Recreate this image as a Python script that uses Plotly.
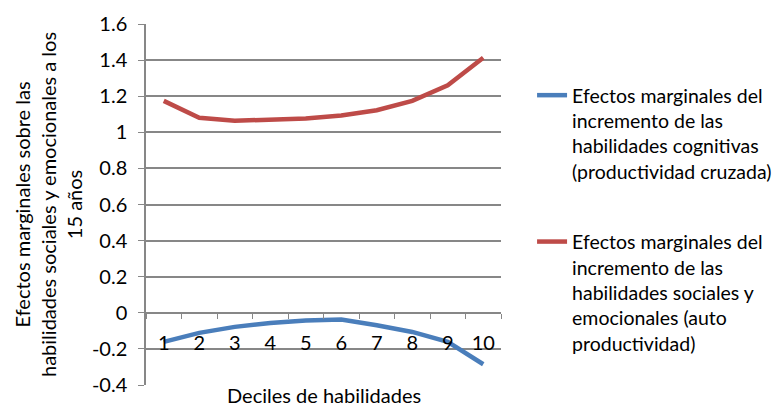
import plotly.graph_objects as go

# Datos
deciles = ["1", "2", "3", "4", "5", "6", "7", "8", "9", "10"]
cognitivas = [-0.161, -0.111, -0.078, -0.056, -0.043, -0.037, -0.069, -0.106, -0.161, -0.285]
socioemocionales = [1.174, 1.081, 1.064, 1.067, 1.076, 1.093, 1.122, 1.174, 1.261, 1.413]

y_ticks = [-0.4, -0.2, 0, 0.2, 0.4, 0.6, 0.8, 1.0, 1.2, 1.4, 1.6]
y_ticktext = ["-0.4", "-0.2", "0", "0.2", "0.4", "0.6", "0.8", "1", "1.2", "1.4", "1.6"]

nombre_azul = "Efectos marginales del<br>incremento de las<br>habilidades cognitivas<br>(productividad cruzada)"
nombre_rojo = "Efectos marginales del<br>incremento de las<br>habilidades sociales y<br>emocionales (auto<br>productividad)"

FUENTE = "Lato"
GRIS = "#878787"

fig = go.Figure()
fig.add_trace(go.Scatter(x=deciles, y=cognitivas, mode="lines", name=nombre_azul,
                         legendgroup="a", line=dict(color="#4A7EBB", width=4.5)))
fig.add_trace(go.Scatter(x=deciles, y=socioemocionales, mode="lines", name=nombre_rojo,
                         legendgroup="b", line=dict(color="#BE4B48", width=4.5)))

# la pagina tiene 8px de margen en el body, por eso 772x402
fig.update_layout(
    width=772, height=402,
    margin=dict(l=138, r=279, t=16, b=25, autoexpand=False),
    plot_bgcolor="white", paper_bgcolor="white",
    font=dict(family=FUENTE, size=20, color="#000000"),
    showlegend=True,
    legend=dict(x=1.0875, y=0.856, xanchor="left", yanchor="top", valign="top",
                tracegroupgap=42, font=dict(size=19.5)),
)

# Eje X cruzando en y=0
fig.update_xaxes(
    type="category", range=[-0.5, 9.5], anchor="free", position=0.2,
    showline=True, linecolor=GRIS, linewidth=1.5,
    showgrid=False, ticks="outside", ticklen=5, tickcolor=GRIS,
    tickson="boundaries", ticklabelstandoff=12,
    tickfont=dict(size=20),
)

fig.update_yaxes(
    range=[-0.4, 1.6], tickvals=y_ticks, ticktext=y_ticktext,
    showline=True, linecolor=GRIS, linewidth=1.5,
    showgrid=True, gridcolor=GRIS, gridwidth=1.5,
    ticks="outside", ticklen=6, tickcolor=GRIS, ticklabelstandoff=7,
    zeroline=False, tickfont=dict(size=20),
)

fig.add_annotation(text="Deciles de habilidades", xref="paper", yref="paper",
                   x=0.5, y=-0.0665, xanchor="center", yanchor="bottom",
                   showarrow=False, font=dict(size=20))
fig.add_annotation(text="Efectos marginales sobre las<br>habilidades sociales y emocionales a los<br>15 años",
                   xref="paper", yref="paper", x=-0.2775, y=0.5, textangle=-90,
                   xanchor="center", yanchor="middle", showarrow=False,
                   font=dict(size=20))

fig.write_html("out.html")
